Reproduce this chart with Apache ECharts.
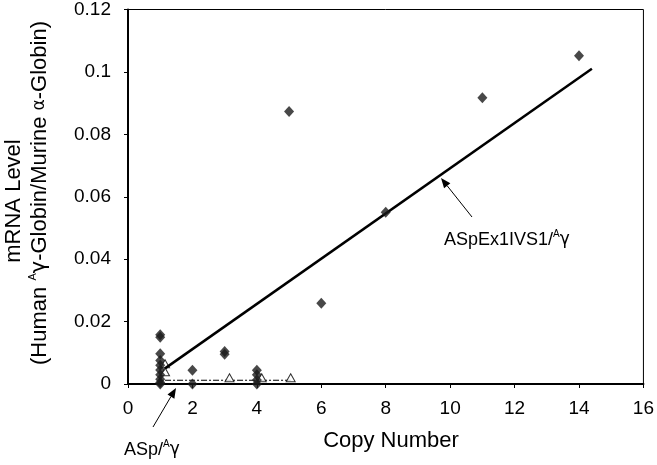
<!DOCTYPE html>
<html>
<head>
<meta charset="utf-8">
<script src="https://cdn.jsdelivr.net/npm/echarts@6/dist/echarts.min.js"></script>
<style>html,body{margin:0;padding:0;background:#fff;}#c{width:657px;height:465px;}</style>
</head>
<body>
<div id="c"></div>
<script>
// ASpEx1IVS1/Aγ (diamonds): [copy number, mRNA level]
var diamondX = [1,1,1,1,1,1,1,1,1,1, 2,2, 3,3, 4,4,4,4, 5, 6, 8, 11, 14];
var diamondY = [0.0158,0.015,0.0097,0.0075,0.006,0.0045,0.003,0.0015,0.0005,0, 0.0044,0, 0.0104,0.0095, 0.0044,0.003,0.0013,0, 0.0873, 0.0259, 0.055, 0.0917, 0.1052];
// ASp/Aγ (triangles)
var triX = [1.15, 1.15, 3.15, 4.15, 5.05];
var triY = [0.0065, 0.0039, 0.002, 0.002, 0.002];
// trend lines
var trendX = [1.15, 14.4];
var trendY = [0.005, 0.101];
var trend2X = [1.15, 5.05];
var trend2Y = [0.0012, 0.0012];
var xTicks = [0,2,4,6,8,10,12,14,16];
var yTicks = [0,0.02,0.04,0.06,0.08,0.1,0.12];

function zip(a,b){return a.map(function(v,i){return [v,b[i]];});}

var FONT = '"Liberation Sans", Arial, sans-serif';
var chart = echarts.init(document.getElementById('c'), null, {renderer:'canvas'});

function arrow(x1,y1,x2,y2){
  var ang = Math.atan2(y2-y1, x2-x1), L = 10, W = 4;
  var bx = x2 - L*Math.cos(ang), by = y2 - L*Math.sin(ang);
  var px = -Math.sin(ang)*W, py = Math.cos(ang)*W;
  return [
    {type:'line', shape:{x1:x1,y1:y1,x2:bx,y2:by}, style:{stroke:'#000', lineWidth:1}},
    {type:'polygon', shape:{points:[[x2,y2],[bx+px,by+py],[bx-px,by-py]]}, style:{fill:'#000'}}
  ];
}

var rich = {
  n: {fontSize:22, fontFamily:FONT, color:'#000', lineHeight:26},
  s: {fontSize:11, fontFamily:FONT, color:'#000', lineHeight:26, verticalAlign:'top'},
  g: {fontSize:21, fontFamily:'"DejaVu Sans", sans-serif', color:'#000', lineHeight:26},
  a: {fontSize:17, fontFamily:'"DejaVu Sans", sans-serif', color:'#000', lineHeight:26},
  n16: {fontSize:18, fontFamily:FONT, color:'#000', lineHeight:21},
  s16: {fontSize:10, fontFamily:FONT, color:'#000', lineHeight:21, verticalAlign:'top'},
  g16: {fontSize:17, fontFamily:'"DejaVu Sans", sans-serif', color:'#000', lineHeight:21}
};

var graphics = [
  {type:'text', x:14, y:201, rotation:Math.PI/2, style:{text:'mRNA Level', font:'22px ' + FONT, fill:'#000', align:'center', verticalAlign:'middle'}},
  {type:'text', x:40, y:193, rotation:Math.PI/2, style:{
    text:'{n|(Human }{s|A}{g|γ}{n|-Globin/Murine }{a|α}{n|-Globin)}',
    rich:rich, align:'center', verticalAlign:'middle'}},
  {type:'text', x:391, y:441, style:{text:'Copy Number', font:'22px ' + FONT, fill:'#000', align:'center', verticalAlign:'middle'}},
  {type:'text', x:444, y:240, style:{
    text:'{n16|ASpEx1IVS1/}{s16|A}{g16|γ}', rich:rich, align:'left', verticalAlign:'middle'}},
  {type:'text', x:124, y:450, style:{
    text:'{n16|ASp/}{s16|A}{g16|γ}', rich:rich, align:'left', verticalAlign:'middle'}}
].concat(arrow(472,217,441,178)).concat(arrow(153,427,176,388));

chart.setOption({
  animation:false,
  backgroundColor:'#fff',
  grid:{left:128, right:13, top:5, bottom:81, show:true, borderColor:'#000', borderWidth:1, backgroundColor:'transparent'},
  xAxis:{
    type:'value', min:0, max:16, interval:2,
    axisLine:{lineStyle:{color:'#000', width:2}},
    axisTick:{show:true, inside:false, length:4, lineStyle:{color:'#000', width:1}},
    axisLabel:{fontSize:19, fontFamily:FONT, color:'#000', margin:15,
      formatter:function(v){return xTicks.indexOf(v)>=0 ? String(v) : '';}},
    splitLine:{show:false}
  },
  yAxis:{
    type:'value', min:0, max:0.12, interval:0.02,
    axisLine:{lineStyle:{color:'#000', width:2}},
    axisTick:{show:true, inside:false, length:4, lineStyle:{color:'#000', width:1}},
    axisLabel:{fontSize:19, fontFamily:FONT, color:'#000', margin:17,
      formatter:function(v){var r=Math.round(v*100)/100; return yTicks.indexOf(r)>=0 ? String(r) : '';}},
    splitLine:{show:false}
  },
  graphic:graphics,
  series:[
    {type:'line', data:zip(trend2X,trend2Y), symbol:'none', silent:true, z:1,
      lineStyle:{color:'#000', width:1, type:[6,2,2,2]}},
    {type:'scatter', data:zip(triX,triY), symbol:'triangle', symbolSize:[9,8], clip:false, z:2,
      itemStyle:{color:'#fff', borderColor:'#000', borderWidth:1}},
    {type:'line', data:zip(trendX,trendY), symbol:'none', silent:true, z:3,
      lineStyle:{color:'#000', width:2.5}},
    {type:'scatter', data:zip(diamondX,diamondY), symbol:'diamond', symbolSize:[10,11], clip:false, z:4,
      itemStyle:{color:'#1a1a1a'}}
  ]
});
</script>
</body>
</html>
